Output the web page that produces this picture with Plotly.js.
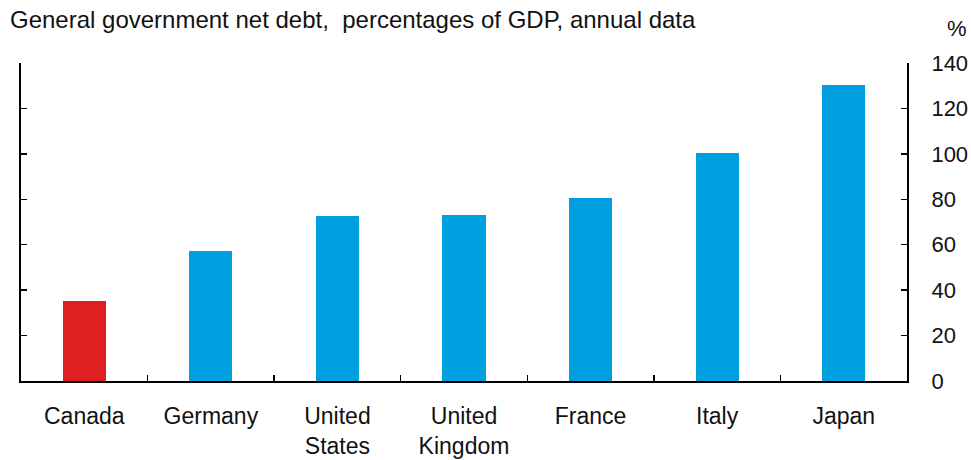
<!DOCTYPE html>
<html><head><meta charset="utf-8">
<script src="https://cdn.plot.ly/plotly-3.0.1.min.js"></script>
<style>body{margin:0;padding:0;}#c{width:971px;height:460px;}</style>
</head><body><div id="c"></div>
<script>
const categories = ["Canada","Germany","United<br>States","United<br>Kingdom","France","Italy","Japan"];
const values = [35.2, 57.2, 72.6, 72.9, 80.6, 100.4, 130.3];
const colors = ["#E02020","#009FE0","#009FE0","#009FE0","#009FE0","#009FE0","#009FE0"];
const yTicks = [0,20,40,60,80,100,120,140];

const fam = "Liberation Sans, Arial, sans-serif";
const trace = {type:"bar", x:categories, y:values, marker:{color:colors, line:{width:0}}, width:0.34, hoverinfo:"skip"};
const layout = {
  width:971, height:460,
  margin:{l:21, r:64, t:63, b:79},
  paper_bgcolor:"#fff", plot_bgcolor:"#fff",
  font:{family:fam, color:"#111", size:22},
  showlegend:false,
  bargap:0,
  xaxis:{type:"category", showline:true, linecolor:"#000", linewidth:2, ticks:"inside", ticklen:6, tickwidth:1.5, tickcolor:"#000",
    tickson:"boundaries", showgrid:false, zeroline:false, tickfont:{size:23, family:fam, color:"#111"},
    ticklabelstandoff:13, fixedrange:true},
  yaxis:{side:"right", range:[0,140], tickvals:yTicks, ticktext:yTicks.map(String), showline:true, linecolor:"#000", linewidth:2,
    ticks:"inside", ticklen:6, tickwidth:1.5, tickcolor:"#000", mirror:"ticks", showgrid:false, zeroline:false,
    tickfont:{size:22, family:fam, color:"#111"}, ticklabelstandoff:18},
  annotations:[
    {text:"General government net debt,  percentages of GDP, annual data", xref:"paper", yref:"paper", x:0, y:1.138,
     xanchor:"left", yanchor:"middle", showarrow:false, font:{size:24, family:fam, color:"#111"}, xshift:-13},
    {text:"%", xref:"paper", yref:"paper", x:1.0, y:1.11, xanchor:"right", yanchor:"middle", showarrow:false, xshift:62,
     font:{size:22, family:fam, color:"#111"}}
  ]
};
Plotly.newPlot("c",[trace],layout,{displayModeBar:false, staticPlot:true});
</script></body></html>
